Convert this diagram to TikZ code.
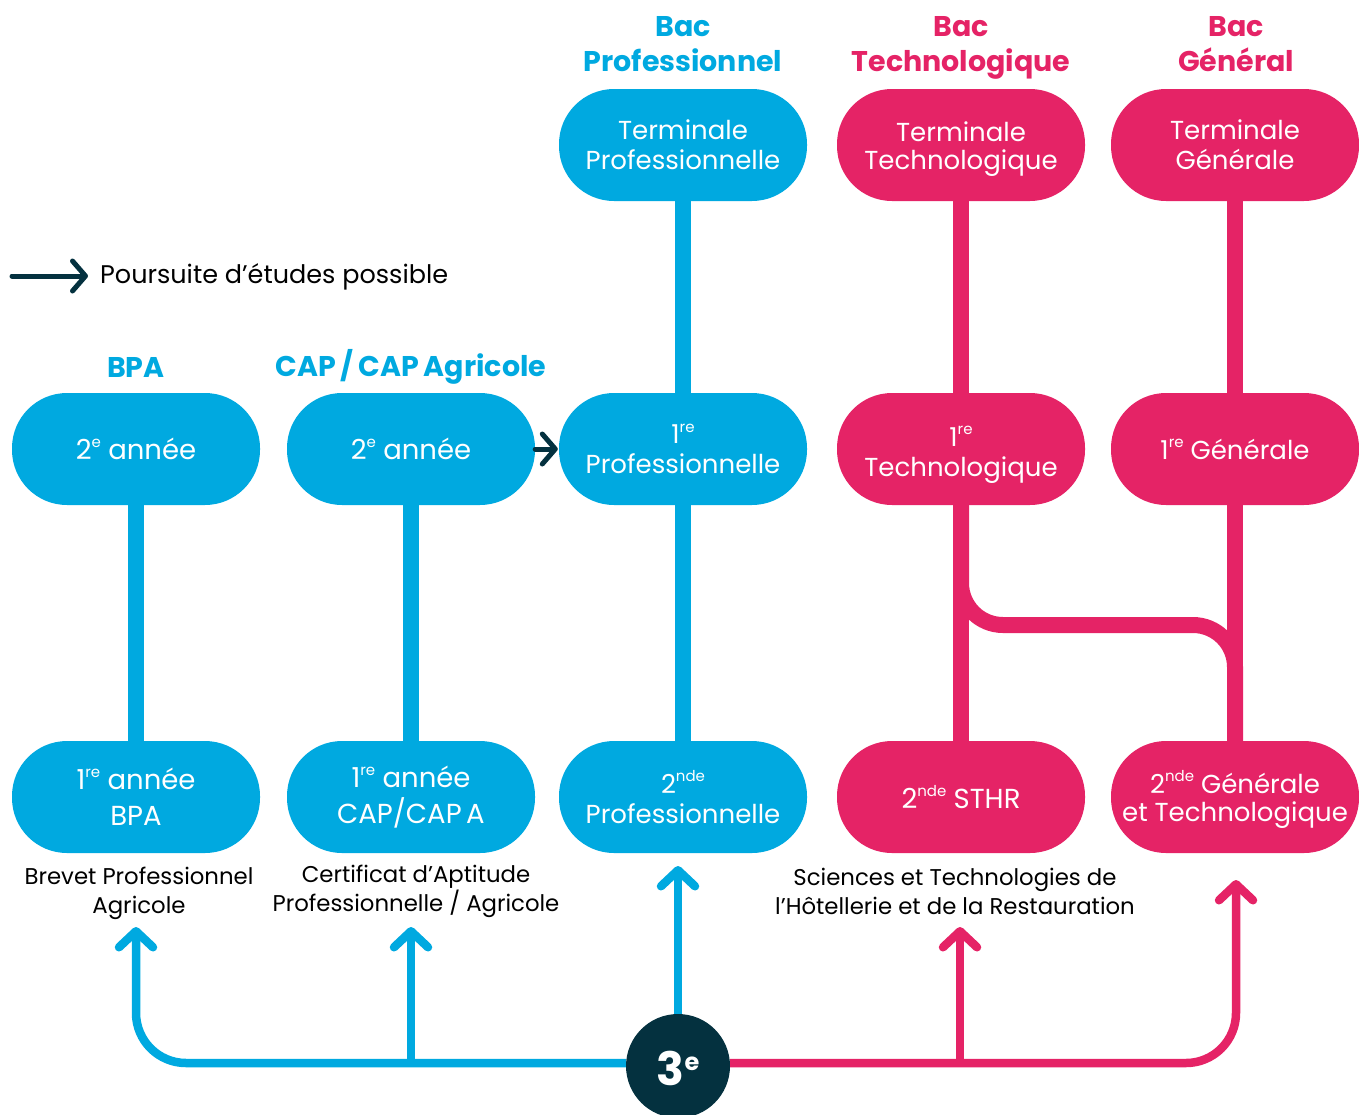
\documentclass[tikz,border=0pt]{standalone}
\usepackage{fontspec}
\setmainfont{Poppins}
\usetikzlibrary{arrows.meta}
\definecolor{cblue}{HTML}{00A9E0}
\definecolor{cpink}{HTML}{E52366}
\definecolor{cdark}{HTML}{04313F}
\newcommand{\expo}[1]{\raisebox{0.45em}{\fontsize{15}{15}\selectfont #1}}
\begin{document}
\begin{tikzpicture}[x=1pt,y=-1pt,
  pill/.style={rectangle, rounded corners=55pt, minimum width=248pt, minimum height=112pt,
    inner sep=0pt, text=white, align=center, font=\fontsize{26}{30}\selectfont},
  bluepill/.style={pill, fill=cblue},
  pinkpill/.style={pill, fill=cpink},
  big/.style={font=\fontsize{27.5}{36}\selectfont},
  bluehead/.style={text=cblue, font=\bfseries\fontsize{28.5}{35}\selectfont, align=center, inner sep=0pt},
  pinkhead/.style={text=cpink, font=\bfseries\fontsize{28.5}{35}\selectfont, align=center, inner sep=0pt},
  desc/.style={text=black, font=\fontsize{22.8}{29}\selectfont, align=center},
  bigblue/.style={draw=cblue, line width=16pt},
  bigpink/.style={draw=cpink, line width=16pt},
  chev/.tip={Straight Barb[length=16pt, width=34pt, line cap=round, line join=round]},
  smallchev/.tip={Straight Barb[length=13pt, width=30pt, line cap=round, line join=round]},
  bluearrow/.style={draw=cblue, line width=8.5pt, -{chev}},
  pinkarrow/.style={draw=cpink, line width=8.5pt, -{chev}},
  darkarrow/.style={draw=cdark, line width=5pt, line cap=round, -{smallchev}},
]
\useasboundingbox (0,0) rectangle (1359,1114);

% headers
\node[bluehead, anchor=north] (hpro) at (683,16) {Bac\\Professionnel};
\node[pinkhead, anchor=north] (htech) at (961,16) {Bac\\Technologique};
\node[pinkhead, anchor=north] (hgen) at (1236,16) {Bac\\Général};
\node[bluehead] (hbpa) at (136,367) {BPA};
\node[bluehead] (hcap) at (411,367) {CAP\,/\,CAP\,Agricole};

% top row
\node[bluepill] (protle) at (683,145) {Terminale\\Professionnelle};
\node[pinkpill, font=\fontsize{26}{27.5}\selectfont] (techtle) at (961,145) {\rule{0pt}{28pt}Terminale\\Technologique};
\node[pinkpill] (gentle) at (1235,145) {Terminale\\Générale};

% middle row
\node[bluepill, big] (bpa2) at (136,449) {2\expo{e} année};
\node[bluepill, big] (cap2) at (411,449) {2\expo{e} année};
\node[bluepill] (pro1) at (683,449) {1\expo{re}\\Professionnelle};
\node[pinkpill] (tech1) at (961,449) {\rule{0pt}{32pt}1\expo{re}\\Technologique};
\node[pinkpill] (gen1) at (1235,449) {1\expo{re} Générale};

% bottom row
\node[bluepill, big] (bpa1) at (136,797) {1\expo{re} année\\BPA};
\node[bluepill, big] (cap1) at (411,797) {1\expo{re} année\\CAP/CAP\,A};
\node[bluepill] (pro2) at (683,797) {2\expo{nde}\\Professionnelle};
\node[pinkpill, big] (sthr) at (961,797) {2\expo{nde} STHR};
\node[pinkpill, font=\fontsize{26}{28}\selectfont] (gt2) at (1235,797) {\rule{0pt}{27pt}2\expo{nde} Générale\\et Technologique};

% descriptions
\node[desc] (dbpa) at (139,893) {Brevet Professionnel\\Agricole};
\node[desc] (dcap) at (416,891) {Certificat d’Aptitude\\Professionnelle / Agricole};
\node[desc] (dsthr) at (955,891) {Sciences et Technologies de\\l’Hôtellerie et de la Restauration};

% legend
\coordinate (lega) at (12,276);
\coordinate (legb) at (88,276);
\draw[darkarrow] (lega) -- (legb);
\node[anchor=west, text=black, font=\fontsize{25.5}{30}\selectfont, inner sep=0pt] (legt) at (100,277) {Poursuite d’études possible};

% vertical connectors
\draw[bigblue] (bpa2.south) -- (bpa1.north);
\draw[bigblue] (cap2.south) -- (cap1.north);
\draw[bigblue] (protle.south) -- (pro1.north);
\draw[bigblue] (pro1.south) -- (pro2.north);
\draw[bigpink] (techtle.south) -- (tech1.north);
\draw[bigpink] (gentle.south) -- (gen1.north);
\draw[bigpink] (tech1.south) -- (sthr.north);
\draw[bigpink] (gen1.south) -- (gt2.north);
\draw[bigpink, rounded corners=42pt] (tech1.south) -- (tech1.south |- 0,625) -- (gt2.north |- 0,625) -- (gt2.north);

% CAP -> 1re pro
\draw[darkarrow] (cap2.east) -- ([xshift=-1pt]pro1.west);

% 3e
\node[circle, fill=cdark, minimum size=104pt, inner sep=0pt] (three) at (678,1066) {};
\node[text=white, font=\bfseries\fontsize{46}{46}\selectfont] (threet) at (678,1068) {3\raisebox{0.32em}{\fontsize{24}{24}\selectfont e}};

\coordinate (tbpa) at (136,927);
\coordinate (tcap) at (411,927);
\coordinate (tpro) at (678,866);
\coordinate (tsthr) at (960,927);
\coordinate (tgt) at (1236,880);

\draw[bluearrow, rounded corners=50pt] (three.west |- 0,1063) -| (tbpa);
\draw[bluearrow] (tcap |- 0,1063) -- (tcap);
\draw[bluearrow] (three.north) -- (tpro);
\draw[pinkarrow, rounded corners=50pt] (three.east |- 0,1063) -| (tgt);
\draw[pinkarrow] (tsthr |- 0,1063) -- (tsthr);
\end{tikzpicture}
\end{document}
